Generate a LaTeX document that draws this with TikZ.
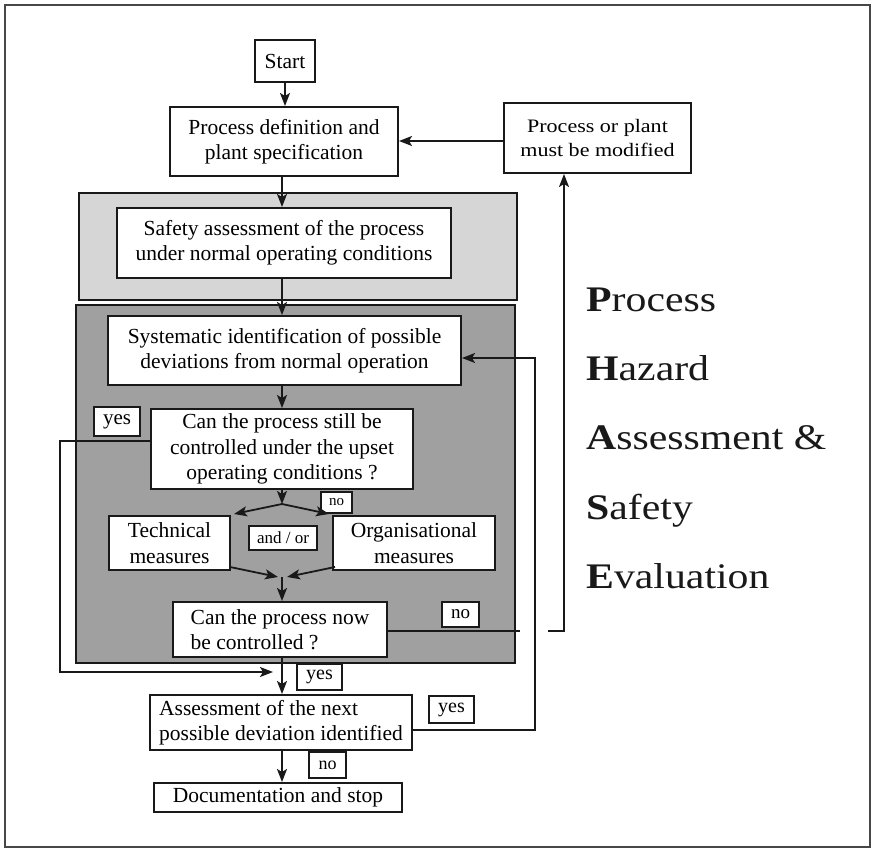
\documentclass[tikz,border=0pt]{standalone}
\usepackage{fontspec}
\setmainfont{Liberation Serif}
\newfontfamily\widefont[FakeStretch=1.16]{Liberation Serif}
\usetikzlibrary{arrows.meta}
\definecolor{lightpanel}{RGB}{214,214,214}
\definecolor{darkpanel}{RGB}{160,160,160}
\definecolor{ink}{RGB}{25,25,25}
\newcommand{\mainsz}{\fontsize{21.5}{25.5}\selectfont}
\begin{document}
\begin{tikzpicture}[x=1pt,y=-1pt,
  box/.style={draw=ink, line width=2pt, fill=white, inner sep=0pt, align=center, font=\mainsz},
  lbl/.style={draw=ink, line width=2pt, fill=white, inner sep=0pt, align=center},
  conn/.style={line width=1.8pt, draw=ink},
  arr/.style={conn, -{Stealth[length=13pt,width=10pt,inset=3pt]}},
  phase/.style={anchor=base west, inner sep=0pt, font=\widefont\fontsize{36}{40}\selectfont, text=ink}]
\useasboundingbox (0,0) rectangle (874,850);
\draw[line width=2pt, draw=ink!80] (5,5) rectangle (870,847);

% panels
\draw[line width=1.8pt, draw=ink, fill=lightpanel] (79,193) rectangle (517,300);
\draw[line width=2pt, draw=ink, fill=darkpanel] (76,305) rectangle (515,663);

% main boxes
\node[box, minimum width=60, minimum height=42] (Start) at (285,61) {Start};
\node[box, minimum width=228, minimum height=69] (ProcDef) at (284,141.5) {Process definition and\\plant specification};
\node[box, minimum width=187, minimum height=70, font=\widefont\fontsize{19}{24}\selectfont] (Modified) at (597.5,138) {Process or plant\\must be modified};
\node[box, minimum width=334, minimum height=70] (Safety) at (284,243) {Safety assessment of the process\\under normal operating conditions};
\node[box, minimum width=353, minimum height=69] (Syst) at (284.5,350.5) {Systematic identification of possible\\deviations from normal operation};
\node[box, minimum width=262, minimum height=80] (Can) at (282,449) {Can the process still be\\controlled under the upset\\operating conditions ?};
\node[box, minimum width=121, minimum height=54] (Tech) at (169.5,543) {Technical\\measures};
\node[box, minimum width=162, minimum height=54] (Org) at (414,543) {Organisational\\measures};
\node[box, minimum width=214, minimum height=55, align=left] (CanNow) at (280,629.5) {Can the process now\\be controlled ?};
\node[box, minimum width=262, minimum height=55, align=left] (Assess) at (281,722.5) {Assessment of the next\\possible deviation identified};
\node[box, minimum width=248, minimum height=29] (Doc) at (278,797.5) {Documentation and stop};

% labels
\node[lbl, minimum width=46, minimum height=29, font=\fontsize{21}{24}\selectfont] (yes1) at (117,421.5) {yes};
\node[lbl, minimum width=31, minimum height=21, font=\fontsize{15}{18}\selectfont] (no1) at (336.5,502.5) {no};
\node[lbl, minimum width=68, minimum height=24, font=\fontsize{17}{20}\selectfont] (andor) at (283,538) {and / or};
\node[lbl, minimum width=37, minimum height=25, font=\fontsize{19}{22}\selectfont] (no2) at (460.5,614.5) {no};
\node[lbl, minimum width=45, minimum height=26, font=\fontsize{20}{23}\selectfont] (yes2) at (319.5,677) {yes};
\node[lbl, minimum width=45, minimum height=27, font=\fontsize{20}{23}\selectfont] (yes3) at (451.5,709.5) {yes};
\node[lbl, minimum width=37, minimum height=26, font=\fontsize{18}{21}\selectfont] (no3) at (327.5,765) {no};

% side title
\node[phase] (t1) at (586,311) {\textbf{P}rocess};
\node[phase] (t2) at (586,380) {\textbf{H}azard};
\node[phase] (t3) at (586,449.5) {\textbf{A}ssessment \&};
\node[phase] (t4) at (586,519) {\textbf{S}afety};
\node[phase] (t5) at (586,588.5) {\textbf{E}valuation};

% coordinates
\coordinate (fork) at (282,504);
\coordinate (tl) at (234,514);
\coordinate (tr) at (329,514);
\coordinate (techout) at (230,567);
\coordinate (orgout) at (335,567);
\coordinate (jl) at (278,577);
\coordinate (jr) at (287,577);
\coordinate (jn) at (282,577);
\coordinate (ly1) at (60,441);
\coordinate (ly2) at (60,672);
\coordinate (ly3) at (273,672);
\coordinate (rn1) at (520,631);
\coordinate (rn2) at (548,631);
\coordinate (rn3) at (564,631);
\coordinate (ry1) at (535,730);
\coordinate (ry2) at (535,358);

% connectors
\draw[arr] (Start.south) -- (Start.south |- ProcDef.north);
\draw[arr] (Modified.west |- 0,141) -- (ProcDef.east |- 0,141);
\draw[arr] (ProcDef.south -| 282,0) -- (Safety.north -| 282,0);
\draw[arr] (Safety.south -| 282,0) -- (Syst.north -| 282,0);
\draw[arr] (Syst.south -| 282,0) -- (Can.north -| 282,0);
\draw[arr] (Can.south -| 282,0) -- (fork);
\draw[arr] (fork) -- (tl);
\draw[arr] (fork) -- (tr);
\draw[arr] (techout) -- (jl);
\draw[arr] (orgout) -- (jr);
\draw[arr] (jn) -- (jn |- CanNow.north);
\draw[arr] (CanNow.south -| 282,0) -- (Assess.north -| 282,0);
\draw[arr] (Assess.south -| 282,0) -- (Doc.north -| 282,0);
\draw[arr] ([yshift=8pt]Can.west) -- (ly1) -- (ly2) -- (ly3);
\draw[conn] ([yshift=-1.5pt]CanNow.east) -- (rn1);
\draw[arr] (rn2) -- (rn3) -- (rn3 |- Modified.south);
\draw[arr] ([yshift=-7.5pt]Assess.east) -- (ry1) -- (ry2) -- ([yshift=-7.5pt]Syst.east);
\end{tikzpicture}
\end{document}
